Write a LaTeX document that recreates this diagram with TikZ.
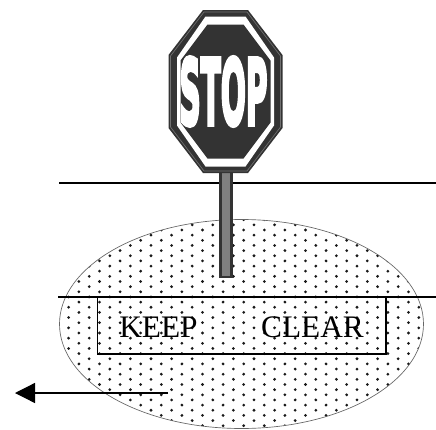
\documentclass[tikz,border=0pt]{standalone}
\usepackage{fontspec}
\setmainfont{Liberation Serif}
\newfontfamily\signfont[FakeBold=5]{DejaVu Sans Bold}
\usetikzlibrary{arrows.meta,positioning}
\definecolor{signdark}{HTML}{333333}
\definecolor{postgrey}{HTML}{808080}
\definecolor{rimgrey}{HTML}{707070}

\newcommand{\octa}[5]{%
  (225.5-#1,91.5-#3) -- (225.5-#2,91.5-#4) -- (225.5+#2,91.5-#4) -- (225.5+#1,91.5-#3)
  -- (225.5+#1,91.5+#3) -- (225.5+#2,91.5+#4) -- (225.5-#2,91.5+#4) -- (225.5-#1,91.5+#3) -- cycle}

\begin{document}
\begin{tikzpicture}[
    x=0.75pt,y=-0.75pt,
    road/.style={draw=black,line width=0.95pt},
    word/.style={font=\fontsize{23.5}{23.5}\selectfont,inner sep=0pt,text=black},
    arr/.style={-{Triangle[length=15pt,width=15pt]},line width=0.95pt}
]
\useasboundingbox (0,0) rectangle (436,429);
\fill[white] (0,0) rectangle (436,429);

% dotted patch
\begin{scope}
\clip (241.5,324) ellipse [x radius=182,y radius=104.5];
\foreach \r in {0,...,42}
  \foreach \c in {0,...,20}
    \fill[black!90] ({17.1+20.6*\c+10.3*mod(\r,2)},{219.7+5.15*\r}) circle (1.15pt);
\end{scope}
\draw[black!60,line width=0.5pt] (241.5,324) ellipse [x radius=182,y radius=104.5];

% road lines
\coordinate (farL) at (59,183);
\coordinate (farR) at (436,183);
\coordinate (nearL) at (58,297);
\coordinate (nearR) at (436,297);
\draw[road] (farL) -- (farR);
\draw[road] (nearL) -- (nearR);

% marking
\draw[road] (97.5,297) rectangle (386,354);
\node[word] (keep) at (158.5,327) {KEEP};
\node[word] (clear) at (312.5,327) {CLEAR};

% arrow
\coordinate (arrowS) at (168,393);
\coordinate (arrowE) at (15,393);
\draw[arr] (arrowS) -- (arrowE);

% post
\fill[signdark] (219,170) rectangle (233,278);
\fill[postgrey] (222,170) rectangle (230,276);

% sign
\fill[signdark] \octa{57}{22.5}{36.5}{81.5}{};
\draw[rimgrey,line width=0.5pt] \octa{55}{21.5}{35.5}{79.5}{};
\fill[white] \octa{48.5}{20}{34}{75}{};
\fill[signdark] \octa{45}{18}{31}{67}{};
\node[inner sep=0pt,text=white,xscale=0.335,yscale=1.03,font=\signfont\fontsize{66}{66}\selectfont] (stop) at (223.5,91.5) {STOP};
\end{tikzpicture}
\end{document}
